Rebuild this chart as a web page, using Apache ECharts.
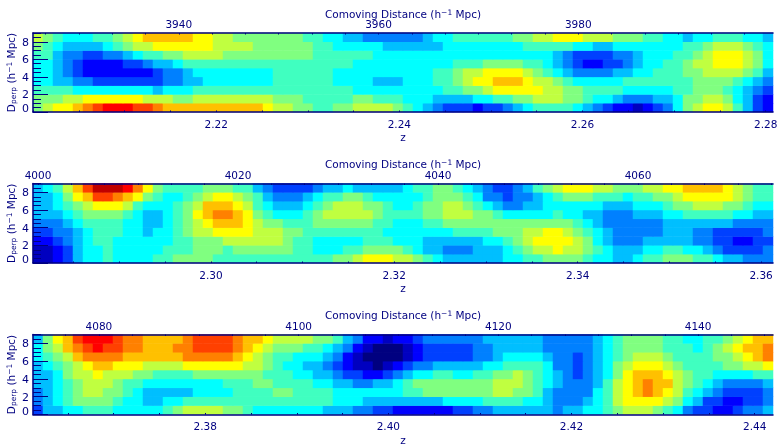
<!DOCTYPE html>
<html><head><meta charset="utf-8">
<style>html,body{margin:0;padding:0;background:#fff}#c{width:779px;height:444px}</style>
<script src="https://cdn.jsdelivr.net/npm/echarts@6/dist/echarts.min.js"></script>
</head><body><div id="c"></div>
<script>
// Colour level of each cell. Row names: panel, then Dperp bin.
const p1r8=[9,8,7,6,6,6,7,7,8,9,10,11,11,11,11,11,10,10,9,9,8,8,8, 8,8,8,8,7,7,6,6,5,5,4,4,4,4,4,4,5,6,6,7,7,7,7,7,7, 8,8,9,9,10,10,10,9,9,9,8,8,8,7,7,6,6,5,6,6,7,7,7,6,6,5];
const p1r7=[8,7,6,5,5,5,5,6,7,8,9,9,10,10,10,10,10,10,9,9,9,9,8, 8,8,8,8,8,7,7,6,6,6,6,6,5,5,5,5,5,5,6,6,6,6,6,6,6, 6,7,7,7,7,7,6,6,5,5,6,6,6,6,6,6,6,7,7,8,9,9,9,8,7,6];
const p1r6=[7,7,5,4,4,3,3,4,4,5,6,7,7,8,8,9,9,9,9,8,8,8,8, 8,8,8,8,8,7,7,7,7,7,7,6,6,6,6,6,6,6,6,6,6,6,6,6,6, 6,6,6,6,5,4,3,3,3,3,4,4,5,6,6,6,7,7,8,9,10,10,10,9,8,6];
const p1r5=[6,6,5,4,3,2,2,2,2,3,3,4,5,5,6,7,7,7,7,7,7,7,7, 7,7,7,7,7,7,7,7,7,6,6,6,6,6,6,6,6,6,6,7,7,7,8,8,8, 8,7,7,6,5,4,3,2,2,3,3,4,5,6,6,7,7,8,9,9,10,10,10,9,8,6];
const p1r4=[6,6,5,4,3,2,2,2,2,2,2,2,3,4,4,5,6,6,6,6,6,6,6, 6,7,7,7,7,7,7,6,6,6,6,6,6,6,6,6,6,7,7,8,9,9,10,10,10, 10,9,8,7,6,5,4,4,4,4,5,5,6,6,7,7,7,8,8,9,9,9,9,8,7,5];
const p1r3=[6,6,5,5,4,4,3,3,3,3,3,3,3,4,4,5,5,6,6,6,6,6,6, 6,7,7,7,7,7,7,6,6,6,6,5,5,5,6,6,6,7,7,8,9,10,10,11,11, 11,10,9,9,8,7,6,6,6,6,6,7,7,7,7,7,7,7,8,8,8,8,7,6,5,4];
const p1r2=[7,7,7,7,6,6,6,6,6,6,6,6,5,6,6,6,7,7,7,7,7,7,7, 7,7,7,7,7,7,7,7,7,6,6,6,6,6,6,6,6,6,7,7,8,8,9,10,10, 10,10,10,9,9,8,8,7,7,7,7,6,6,6,6,6,7,7,8,8,8,7,6,5,4,3];
const p1r1=[8,8,8,9,9,10,10,10,10,10,10,9,9,9,8,8,9,9,9,9,9,9,9, 9,8,8,8,7,7,7,7,7,8,8,7,7,7,6,6,6,5,5,5,5,6,6,7,7, 8,8,9,9,9,8,8,7,6,6,5,4,4,4,5,5,6,8,8,9,9,8,6,5,3,2];
const p1r0=[8,9,10,10,11,12,13,14,14,14,13,13,12,11,11,11,11,11,11,11,11,11,11, 10,9,9,8,8,7,7,8,8,9,9,9,9,8,7,6,5,4,3,3,3,2,3,3,4, 5,6,7,7,7,7,6,5,4,3,2,2,1,2,3,4,6,8,9,10,10,9,7,5,3,2];

const p2r8=[5,6,7,9,11,13,15,15,15,14,12,10,8,7,7,7,7,8,8,8,7,7,5, 4,3,3,3,3,4,5,5,6,5,5,5,5,5,6,7,7,8,8,7,6,5,4,3,3, 4,5,7,8,9,10,10,10,9,9,8,8,8,9,9,10,10,11,11,11,11,10,9,8,7,7];
const p2r7=[5,5,6,8,10,11,13,13,12,11,10,8,7,6,6,7,8,9,10,10,9,8,7, 5,4,4,4,5,6,7,7,8,8,7,6,6,6,6,6,7,8,8,8,7,6,4,4,3, 4,4,5,6,7,8,8,8,7,7,7,6,7,7,8,8,9,10,10,10,10,10,9,8,7,7];
const p2r6=[5,5,6,7,8,9,10,10,10,9,7,6,6,6,7,8,9,11,11,11,10,9,7, 6,5,5,5,6,7,8,9,9,9,8,8,7,6,6,7,8,8,9,9,8,7,6,5,4, 4,5,5,6,6,6,6,6,6,5,5,5,6,6,6,7,8,8,9,9,9,8,8,7,6,6];
const p2r5=[5,5,5,6,7,8,8,8,8,7,6,5,5,6,7,8,10,11,12,12,11,10,8, 7,6,6,6,7,8,9,9,9,9,9,8,7,7,7,7,8,8,9,9,9,8,8,7,6, 6,6,6,6,7,6,6,5,5,4,4,4,5,5,5,6,6,7,7,7,7,7,6,6,5,5];
const p2r4=[4,4,4,5,6,7,7,7,7,6,6,5,5,6,7,8,9,10,11,11,11,10,9, 8,8,7,7,7,8,8,8,8,8,8,7,7,6,6,6,7,7,8,8,8,8,8,8,8, 8,8,8,8,8,8,7,6,5,4,4,4,4,4,4,5,5,5,5,5,5,5,4,4,4,4];
const p2r3=[3,3,4,4,5,6,7,7,7,6,6,5,6,6,7,8,9,9,10,10,10,10,9, 9,9,8,8,7,7,7,7,7,7,7,7,6,6,6,6,6,6,6,7,7,7,7,8,8, 8,9,9,10,10,9,8,7,6,5,4,4,4,4,4,5,5,5,4,4,3,3,3,3,3,4];
const p2r2=[2,2,3,4,5,6,7,7,6,6,6,6,6,6,7,7,8,8,8,9,9,9,9, 9,9,8,7,7,6,6,6,6,6,7,7,7,6,6,6,5,5,5,5,5,5,6,6,7, 8,9,10,10,10,10,9,8,6,5,4,4,4,5,5,5,5,5,4,4,3,3,2,2,3,3];
const p2r1=[1,1,2,3,5,6,6,7,6,6,6,6,6,7,7,7,8,8,8,7,8,8,8, 8,8,8,7,7,6,6,6,7,7,8,8,8,8,7,6,5,5,4,4,4,5,5,5,6, 7,8,9,9,10,9,9,8,7,6,5,5,5,6,6,7,7,6,6,5,4,3,3,3,3,4];
const p2r0=[1,1,2,3,5,6,6,7,6,6,6,6,7,7,8,8,8,8,7,7,7,7,7, 7,7,7,7,7,7,7,8,8,9,10,10,10,9,9,8,7,6,5,5,5,5,5,5,6, 6,7,7,8,8,8,8,7,6,6,5,5,6,7,7,8,8,8,7,7,6,5,5,4,4,4];

const p3r8=[5,8,10,11,13,14,14,14,13,12,12,11,11,11,11,12,13,13,13,13,12,11,11, 10,9,9,9,9,8,8,7,5,4,2,2,1,2,2,3,4,4,4,4,4,4,5,5,5, 5,5,5,4,4,4,4,4,5,6,7,8,8,8,8,7,7,6,6,7,7,8,9,10,11,11];
const p3r7=[6,8,9,11,12,13,14,13,13,12,12,11,11,11,12,12,13,13,13,13,12,11,10, 9,8,8,8,7,7,6,5,4,2,1,0,0,0,1,2,3,3,3,3,3,4,4,5,5, 5,5,5,4,4,4,4,4,5,6,7,8,8,8,8,7,7,7,6,7,8,9,10,11,11,12];
const p3r6=[6,7,8,9,11,12,12,12,12,11,11,11,11,11,11,12,12,12,12,12,11,10,9, 8,7,7,6,6,6,5,4,2,1,0,0,0,0,1,2,3,3,3,3,3,4,4,5,6, 6,6,6,5,4,4,3,4,5,6,7,8,9,9,9,8,7,7,7,7,8,8,9,10,11,12];
const p3r5=[5,6,7,8,9,10,11,11,10,10,10,9,9,9,9,10,10,10,10,10,10,9,9, 8,7,6,6,5,5,4,3,2,1,1,0,1,2,3,4,4,5,5,5,5,5,6,6,7, 7,7,7,6,4,4,3,4,5,6,8,9,10,10,10,9,8,7,7,7,7,8,8,9,9,10];
const p3r4=[5,5,6,8,9,9,10,9,9,9,8,8,7,7,7,7,8,8,8,8,8,8,8, 7,7,7,6,6,5,5,4,3,3,2,2,3,4,5,6,6,7,7,6,6,7,7,8,8, 9,8,7,6,5,4,3,4,5,6,8,10,11,11,11,10,9,8,7,7,6,6,6,6,7,7];
const p3r3=[5,5,6,7,8,9,9,9,8,7,7,6,6,6,6,6,6,6,6,7,7,7,8, 8,7,7,7,7,6,6,5,5,4,4,5,5,6,7,8,8,8,8,8,8,8,8,9,9, 9,8,7,6,5,4,4,4,5,7,9,10,11,12,11,11,9,8,7,6,5,4,4,4,4,5];
const p3r2=[4,5,6,7,8,9,9,8,8,7,6,5,5,5,5,5,6,6,6,6,7,7,7, 7,8,8,7,7,7,7,6,6,6,6,6,6,6,7,7,8,8,8,8,8,8,8,9,9, 8,8,7,5,4,4,4,4,6,7,9,10,11,12,11,10,9,7,6,5,4,3,3,3,3,4];
const p3r1=[4,5,6,7,8,8,8,8,7,6,6,5,5,6,6,7,7,7,7,7,7,7,7, 7,7,7,7,7,7,7,6,6,6,5,5,5,5,5,5,5,5,6,6,6,6,7,7,7, 7,6,6,5,4,4,4,5,6,7,9,10,10,10,10,9,8,6,5,3,3,2,2,3,3,4];
const p3r0=[3,5,5,6,6,7,7,7,6,6,6,6,6,7,8,9,9,9,9,8,8,7,6, 6,6,6,6,6,6,5,5,5,4,4,3,3,2,2,2,2,2,2,3,3,4,4,5,5, 5,5,5,5,4,5,5,6,6,7,8,9,9,9,8,7,6,4,3,3,2,2,3,4,4,5];

const panel1=[p1r0,p1r1,p1r2,p1r3,p1r4,p1r5,p1r6,p1r7,p1r8];
const panel2=[p2r0,p2r1,p2r2,p2r3,p2r4,p2r5,p2r6,p2r7,p2r8];
const panel3=[p3r0,p3r1,p3r2,p3r3,p3r4,p3r5,p3r6,p3r7,p3r8];

const zTicks1=[2.22,2.24,2.26,2.28], zTicks2=[2.30,2.32,2.34,2.36], zTicks3=[2.38,2.40,2.42,2.44];
const dTicks1=[3940,3960,3980], dTicks2=[4000,4020,4040,4060], dTicks3=[4080,4100,4120,4140];
const zRange1=[2.2000,2.2808], zRange2=[2.2806,2.3613], zRange3=[2.3612,2.4420];
const dRange1=[3925.4,3999.5], dRange2=[3999.5,4073.5], dRange3=[4073.4,4147.5];
const yTicks=[0,2,4,6,8];
const levelColors=['#000080','#0000c0','#0000ff','#0040ff','#0080ff','#00bfff','#00ffff','#40ffc0','#80ff80','#c0ff40','#ffff00','#ffc000','#ff8000','#ff4000','#ff0000','#c00000'];

const NAVY='#000080', FONT='"DejaVu Sans"';
const layout=[{top:33,height:79},{top:183.5,height:79.5},{top:334.5,height:80}];
const panels=[
 {cells:panel1,z:zTicks1,d:dTicks1,zr:zRange1,dr:dRange1},
 {cells:panel2,z:zTicks2,d:dTicks2,zr:zRange2,dr:dRange2},
 {cells:panel3,z:zTicks3,d:dTicks3,zr:zRange3,dr:dRange3}];
const cols=Array.from({length:74},(_,i)=>String(i));
const rowsCat=Array.from({length:9},(_,i)=>String(i));
function steps(lo,hi,base,st){const o=[];let k=Math.ceil((lo-base)/st-1e-9);for(;base+k*st<=hi+1e-9;k++)o.push(+(base+k*st).toFixed(5));return o;}
const line={show:true,lineStyle:{color:NAVY,width:1.5}};
const grid=[],xAxis=[],yAxis=[],series=[];
const text={color:NAVY,fontFamily:FONT,fontSize:10.5};
panels.forEach((p,i)=>{
  grid.push({left:33,width:740,top:layout[i].top,height:layout[i].height,show:false,containLabel:false,outerBoundsMode:'none'});
  const xb=xAxis.length,yb=yAxis.length;
  xAxis.push({type:'category',gridIndex:i,data:cols,show:false});
  xAxis.push({type:'value',gridIndex:i,position:'bottom',min:p.zr[0],max:p.zr[1],z:10,splitLine:{show:false},axisLine:line,
    axisTick:{show:true,inside:true,length:1.5,lineStyle:{color:NAVY,width:1},customValues:steps(p.zr[0],p.zr[1],2.2,0.005)},
    axisLabel:{...text,margin:7.5,customValues:p.z,formatter:v=>v.toFixed(2)},
    name:'z',nameLocation:'middle',nameGap:21,nameMoveOverlap:false,nameTextStyle:{...text}});
  xAxis.push({type:'value',gridIndex:i,position:'top',min:p.dr[0],max:p.dr[1],z:10,splitLine:{show:false},axisLine:line,
    axisTick:{show:true,inside:true,length:1.5,lineStyle:{color:NAVY,width:1},customValues:steps(p.dr[0],p.dr[1],3920,20/6)},
    axisLabel:{...text,margin:2,customValues:p.d,formatter:v=>String(v)},
    name:'Comoving Distance (h{sup|−1} Mpc)',nameLocation:'middle',nameGap:12,nameMoveOverlap:false,
    nameTextStyle:{...text,rich:{sup:{...text,fontSize:7.5,verticalAlign:'top',lineHeight:12}}}});
  yAxis.push({type:'category',gridIndex:i,data:rowsCat,show:false});
  yAxis.push({type:'value',gridIndex:i,position:'left',min:0,max:9,z:10,splitLine:{show:false},axisLine:line,
    axisTick:{show:true,inside:true,length:15,lineStyle:{color:NAVY,width:1},customValues:yTicks},
    axisLabel:{...text,fontSize:11,margin:4,padding:[2,0,0,0],customValues:yTicks,formatter:v=>v===0?'{lift|0}':String(v),
      rich:{lift:{...text,fontSize:11,padding:[0,0,7,0]}}},
    name:'D{sub|perp} (h{sup|−1} Mpc)',nameLocation:'middle',nameGap:15,nameMoveOverlap:false,
    nameTextStyle:{...text,fontSize:10.5,rich:{sup:{...text,fontSize:7.5,verticalAlign:'top',lineHeight:12},sub:{...text,fontSize:7.5,verticalAlign:'bottom',lineHeight:12,padding:[4,0,0,0]}}}});
  yAxis.push({type:'value',gridIndex:i,position:'left',min:0,max:9,z:10,splitLine:{show:false},axisLine:{show:false},
    axisTick:{show:true,inside:true,length:8,lineStyle:{color:NAVY,width:1},customValues:steps(0,9,0,0.5)},
    axisLabel:{show:false}});
  const data=[];
  p.cells.forEach((row,r)=>row.forEach((v,c)=>data.push([c,r,v])));
  series.push({type:'heatmap',xAxisIndex:xb,yAxisIndex:yb,data,progressive:0,itemStyle:{borderWidth:0},emphasis:{disabled:true}});
});
const chart=echarts.init(document.getElementById('c'),null,{renderer:'canvas'});
chart.setOption({animation:false,backgroundColor:'#fff',tooltip:{show:false},
  visualMap:{show:false,type:'continuous',min:0,max:15,dimension:2,seriesIndex:[0,1,2],inRange:{color:levelColors}},
  grid,xAxis,yAxis,series});
</script></body></html>
